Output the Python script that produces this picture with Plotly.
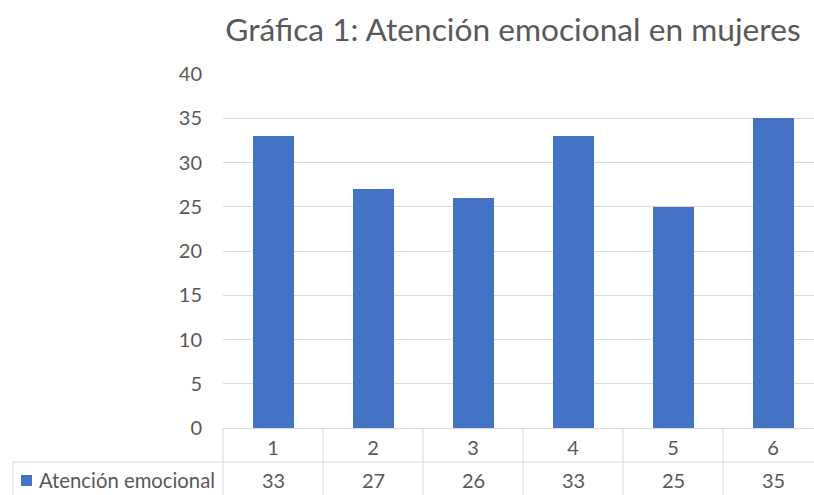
import plotly.graph_objects as go

# Chart data
categories = ["1", "2", "3", "4", "5", "6"]
values = [33, 27, 26, 33, 25, 35]
series_name = "Atención emocional"
chart_title = "Gráfica 1: Atención emocional en mujeres"
y_tick_values = [0, 5, 10, 15, 20, 25, 30, 35, 40]

# Layout geometry (pixels)
W, H = 814, 495
L, R, T, B = 223, 0, 74, 67
plot_w = W - L - R
plot_h = H - T - B
cat_px = 100.0  # width of one category slot

TEXT = "#595959"
GRID = "#D9D9D9"
BAR = "#4472C4"
FONT = "Lato"
NUM_SIZE = 20

x_range = [-0.5, -0.5 + plot_w / cat_px]


def paper_x(px):
    return (px - L) / plot_w


def paper_y(py):
    return (H - B - py) / plot_h


def cat_to_paper(xv):
    return (xv - x_range[0]) / (x_range[1] - x_range[0])


fig = go.Figure()
fig.add_trace(go.Bar(
    x=categories, y=values, name=series_name,
    marker=dict(color=BAR, line=dict(width=0)),
    width=0.41, showlegend=False,
))

shapes = []
line_style = dict(color=GRID, width=1)
# data table grid: row separator
shapes.append(dict(type="line", xref="paper", yref="paper",
                   x0=paper_x(13), x1=paper_x(W + 5),
                   y0=paper_y(462), y1=paper_y(462), line=line_style))
# column separators at category boundaries
for i in range(len(categories)):
    xp = cat_to_paper(i - 0.5)
    shapes.append(dict(type="line", xref="paper", yref="paper",
                       x0=xp, x1=xp, y0=paper_y(428), y1=paper_y(H + 5),
                       line=line_style))
# left border of the series row
shapes.append(dict(type="line", xref="paper", yref="paper",
                   x0=paper_x(13), x1=paper_x(13), y0=paper_y(462), y1=paper_y(H + 5),
                   line=line_style))
# legend key square
shapes.append(dict(type="rect", xref="paper", yref="paper",
                   x0=paper_x(21), x1=paper_x(32), y0=paper_y(486), y1=paper_y(475),
                   fillcolor=BAR, line=dict(width=0)))

annotations = []
# series values row of the data table
for i, v in enumerate(values):
    annotations.append(dict(x=cat_to_paper(i), xref="paper", y=paper_y(480), yref="paper",
                            text=str(v), showarrow=False, xanchor="center", yanchor="middle",
                            font=dict(family=FONT, size=NUM_SIZE, color=TEXT)))
annotations.append(dict(x=paper_x(37), xref="paper", y=paper_y(480), yref="paper",
                        text=series_name, showarrow=False, xanchor="left", yanchor="middle",
                        font=dict(family=FONT, size=20.3, color=TEXT)))

fig.update_layout(
    width=W, height=H,
    margin=dict(l=L, r=R, t=T, b=B, pad=0),
    paper_bgcolor="white", plot_bgcolor="white",
    title=dict(text=chart_title, x=513 / W, xanchor="center", xref="container",
               y=1 - 30 / H, yanchor="middle", yref="container",
               font=dict(family=FONT, size=31.7, color=TEXT)),
    xaxis=dict(range=x_range, showgrid=False, showline=True, linecolor=GRID, linewidth=1,
               ticks="", tickfont=dict(family=FONT, size=NUM_SIZE, color=TEXT),
               ticklabelstandoff=2, zeroline=False, fixedrange=True),
    yaxis=dict(range=[0, 40], tickvals=y_tick_values, showgrid=True, gridcolor=GRID,
               gridwidth=1, zeroline=False, showline=False, ticks="",
               tickfont=dict(family=FONT, size=NUM_SIZE, color=TEXT), ticklabelstandoff=20,
               fixedrange=True),
    shapes=shapes,
    annotations=annotations,
    bargap=0,
)

fig.write_html("out.html")
